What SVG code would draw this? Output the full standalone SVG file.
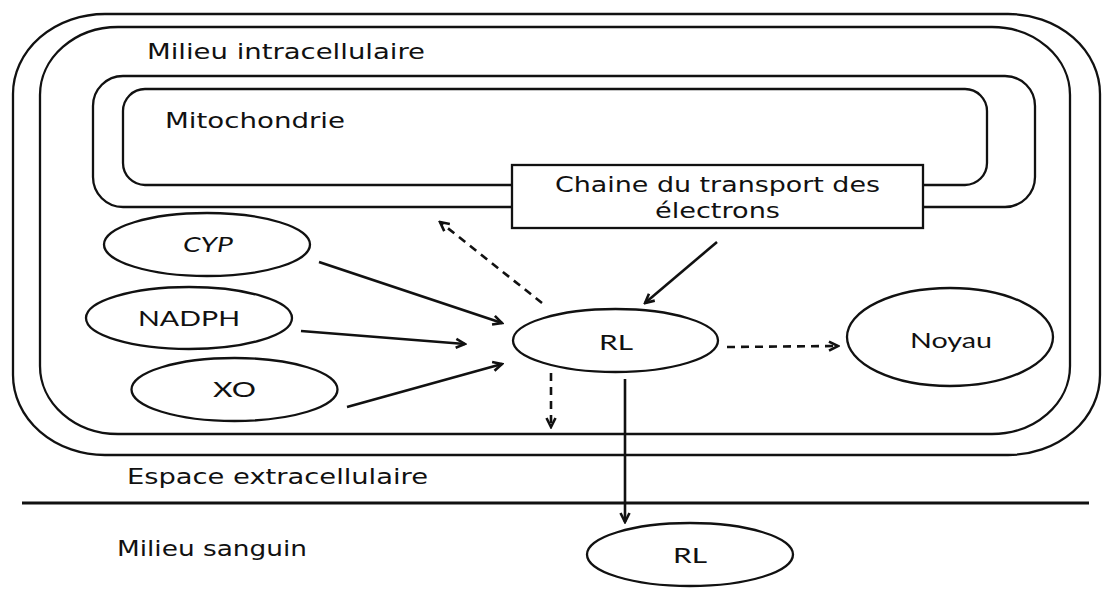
<svg xmlns="http://www.w3.org/2000/svg" width="1102" height="596" viewBox="0 0 1102 596">
<style>
.shape{fill:none;stroke:#111;stroke-width:2.3}
.node{fill:#fff;stroke:#111;stroke-width:2.3}
.lbl{font-family:"DejaVu Sans","Noto Sans",sans-serif;font-size:22px;fill:#111}
.nl{font-family:Lato,"Open Sans",sans-serif;font-size:22px;fill:#111;text-anchor:middle}
.arr{fill:none;stroke:#111;stroke-width:2.6;marker-end:url(#ah)}
.dash{stroke-dasharray:8 6}
</style>
<defs>
<marker id="ah" viewBox="0 0 12 12" refX="10" refY="6" markerWidth="12" markerHeight="12" markerUnits="userSpaceOnUse" orient="auto">
<path d="M1,1.5 L10,6 L1,10.5" fill="none" stroke="#111" stroke-width="2.6" stroke-dasharray="none"/>
</marker>
</defs>
<rect x="0" y="0" width="1102" height="596" fill="#fff"/>
<g id="cellule">
<rect class="shape" x="13" y="14" width="1087" height="441" rx="92" ry="80"/>
<rect class="shape" x="40" y="27" width="1030" height="407" rx="78" ry="68"/>
<text class="lbl" x="147" y="59" textLength="278" lengthAdjust="spacingAndGlyphs">Milieu intracellulaire</text>
</g>
<g id="mitochondrie">
<rect class="shape" x="93" y="76" width="942" height="131" rx="30" ry="30"/>
<rect class="shape" x="123" y="89" width="864" height="96" rx="22" ry="22"/>
<text class="lbl" x="165" y="128" textLength="180" lengthAdjust="spacingAndGlyphs">Mitochondrie</text>
</g>
<g id="chaine">
<rect class="node" x="512" y="165" width="411" height="63" stroke-width="2.6"/>
<text class="lbl" x="717.5" y="192" text-anchor="middle" textLength="325" lengthAdjust="spacingAndGlyphs">Chaine du transport des</text>
<text class="lbl" x="717.5" y="218" text-anchor="middle" textLength="125" lengthAdjust="spacingAndGlyphs">électrons</text>
</g>
<g id="cyp">
<ellipse class="node" cx="207" cy="244.5" rx="103" ry="31.5"/>
<text class="nl" x="208" y="252" font-style="italic" textLength="50" lengthAdjust="spacingAndGlyphs">CYP</text>
</g>
<g id="nadph">
<ellipse class="node" cx="189" cy="318" rx="103" ry="31"/>
<text class="nl" x="189" y="326" textLength="102" lengthAdjust="spacingAndGlyphs">NADPH</text>
</g>
<g id="xo">
<ellipse class="node" cx="234.5" cy="389.5" rx="103" ry="31.5"/>
<text class="nl" x="234.5" y="397" textLength="43" lengthAdjust="spacingAndGlyphs">XO</text>
</g>
<g id="rl">
<ellipse class="node" cx="615.5" cy="340.5" rx="102.5" ry="31.5"/>
<text class="nl" x="616" y="350" textLength="34" lengthAdjust="spacingAndGlyphs">RL</text>
</g>
<g id="noyau">
<ellipse class="node" cx="950" cy="337" rx="103" ry="49"/>
<text class="nl" x="951" y="348" textLength="82" lengthAdjust="spacingAndGlyphs">Noyau</text>
</g>
<g id="espace">
<text class="lbl" x="127" y="484" textLength="301" lengthAdjust="spacingAndGlyphs">Espace extracellulaire</text>
<line x1="22" y1="503" x2="1089" y2="503" stroke="#111" stroke-width="2.8"/>
</g>
<g id="sanguin">
<text class="lbl" x="117" y="556" textLength="190" lengthAdjust="spacingAndGlyphs">Milieu sanguin</text>
</g>
<g id="rl-sang">
<ellipse class="node" cx="690" cy="554.5" rx="103" ry="31.5"/>
<text class="nl" x="690" y="563" textLength="34" lengthAdjust="spacingAndGlyphs">RL</text>
</g>
<g id="connecteurs">
<line class="arr" x1="319" y1="262" x2="502" y2="323"/>
<line class="arr" x1="301" y1="331" x2="465" y2="344"/>
<line class="arr" x1="347" y1="407" x2="502" y2="364"/>
<line class="arr" x1="717" y1="242" x2="645" y2="303"/>
<line class="arr dash" x1="542" y1="303" x2="440" y2="222"/>
<line class="arr dash" x1="727" y1="347" x2="838" y2="346"/>
<line class="arr dash" x1="551" y1="373" x2="551" y2="427"/>
<line class="arr" x1="625" y1="379" x2="625" y2="522"/>
</g>
</svg>
